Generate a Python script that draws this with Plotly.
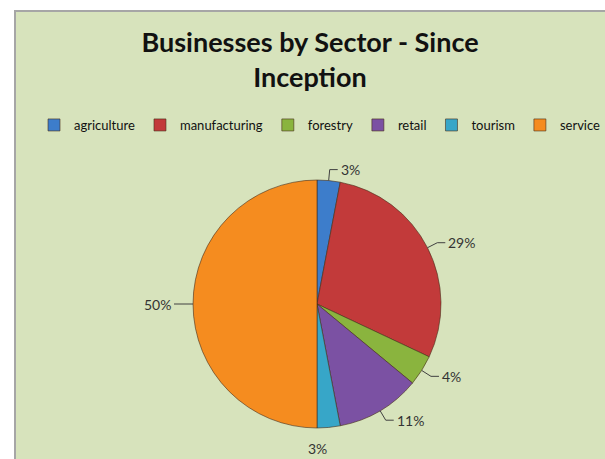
import math
import plotly.graph_objects as go

sectors = ["agriculture", "manufacturing", "forestry", "retail", "tourism", "service"]
shares = [3, 29, 4, 11, 3, 50]
colors = ["#3d7dcb", "#c23a3a", "#8ab43e", "#7b51a3", "#37a6c8", "#f58c1f"]

# layout geometry in page pixels
W, H = 605, 459
ML, MT = 15, 11
PW, PH = W - ML, H - MT
CX, CY, R = 317, 304, 124   # pie centre / radius

cxp = (CX - ML) / PW
cyp = (H - CY) / PH
dom_x = [(CX - R - ML) / PW, (CX + R - ML) / PW]
dom_y = [(H - CY - R) / PH, (H - CY + R) / PH]

fig = go.Figure()
fig.add_trace(go.Pie(
    labels=sectors,
    values=shares,
    sort=False,
    direction="clockwise",
    rotation=0,
    marker=dict(colors=colors, line=dict(color="rgba(70,45,25,0.75)", width=0.8)),
    textinfo="none",
    domain=dict(x=dom_x, y=dom_y),
    hoverinfo="label+percent",
))

# percentage labels with leader lines, placed from the data's slice angles
total = sum(shares)
annotations = []
shapes = [dict(
    type="rect", xref="paper", yref="paper", x0=0, x1=1.03, y0=-0.03, y1=1,
    fillcolor="#d7e3bc", line=dict(color="#a6a6a6", width=2), layer="below",
)]
cum = 0
for name, v in zip(sectors, shares):
    mid = (cum + v / 2) / total * 360
    cum += v
    a = math.radians(mid)
    sx, sy = math.sin(a), math.cos(a)
    pct = f"{round(v / total * 100)}%"
    if abs(mid - 180) < 10:
        annotations.append(dict(
            x=cxp, y=cyp, xref="paper", yref="paper", text=pct, showarrow=False,
            xshift=0, yshift=-(R + 20), xanchor="center", yanchor="middle",
            font=dict(family="Lato", size=14, color="#333333"),
        ))
        continue
    x0, y0 = R * sx, R * sy
    x1, y1 = (R + 11) * sx, (R + 11) * sy
    side = 1 if sx >= 0 else -1
    x2 = x1 + side * 8
    for (ax, ay, bx, by) in [(x0, y0, x1, y1), (x1, y1, x2, y1)]:
        shapes.append(dict(
            type="line", xref="paper", yref="paper",
            xsizemode="pixel", ysizemode="pixel", xanchor=cxp, yanchor=cyp,
            x0=ax, y0=ay, x1=bx, y1=by,
            line=dict(color="#404040", width=1),
        ))
    annotations.append(dict(
        x=cxp, y=cyp, xref="paper", yref="paper", text=pct, showarrow=False,
        xshift=x2 + side * 1, yshift=y1,
        xanchor="left" if side > 0 else "right", yanchor="middle",
        font=dict(family="Lato", size=14, color="#333333"),
    ))

fig.update_layout(
    width=W, height=H,
    margin=dict(l=ML, r=0, t=MT, b=0, autoexpand=False),
    paper_bgcolor="white",
    title=dict(
        text="<b>Businesses by Sector - Since<br>Inception</b>",
        x=0.5, xref="paper", xanchor="center",
        y=1 - 52 / H, yref="container", yanchor="top",
        font=dict(family="Lato", size=27, color="#111111"),
    ),
    legend=dict(
        orientation="h", x=(320 - ML) / PW, xanchor="center",
        y=(H - 125) / PH, yanchor="middle",
        font=dict(family="Lato", size=13, color="#111111"),
        bgcolor="rgba(0,0,0,0)", itemwidth=30, traceorder="normal",
    ),
    shapes=shapes,
    annotations=annotations,
)

fig.write_html(
    "out.html",
    config={"displayModeBar": False},
    post_script="document.body.style.margin='0';document.body.style.overflow='hidden';",
)
